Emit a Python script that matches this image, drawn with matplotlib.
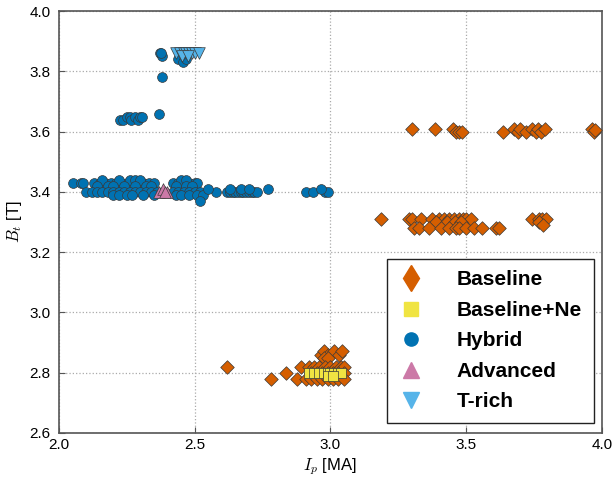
import matplotlib
matplotlib.use('Agg')
import matplotlib.pyplot as plt
from matplotlib.lines import Line2D

plt.rcParams['font.family'] = ['Liberation Sans', 'DejaVu Sans']
plt.rcParams['mathtext.fontset'] = 'cm'

# Baseline (orange diamonds)
base_top_x = [3.30, 3.386, 3.453, 3.464, 3.474, 3.485, 3.636, 3.676, 3.69, 3.70, 3.72,
              3.743, 3.757, 3.765, 3.775, 3.79, 3.963, 3.97, 3.975]
base_top_y = [3.61, 3.61, 3.61, 3.60, 3.60, 3.60, 3.60, 3.61, 3.60, 3.61, 3.60,
              3.61, 3.60, 3.61, 3.60, 3.61, 3.61, 3.60, 3.605]
base_mid_x = [3.187, 3.29, 3.30, 3.334, 3.375, 3.40, 3.42, 3.437, 3.455, 3.474, 3.49, 3.50, 3.518,
              3.39, 3.43, 3.46, 3.48,
              3.309, 3.327, 3.364, 3.408, 3.437, 3.463, 3.474, 3.50, 3.53, 3.56, 3.61, 3.62,
              3.743, 3.768, 3.78, 3.794, 3.77, 3.785]
base_mid_y = [3.31, 3.31, 3.31, 3.31, 3.31, 3.31, 3.31, 3.31, 3.31, 3.31, 3.31, 3.31, 3.31,
              3.30, 3.30, 3.30, 3.30,
              3.28, 3.28, 3.28, 3.28, 3.28, 3.28, 3.28, 3.28, 3.28, 3.28, 3.28, 3.28,
              3.31, 3.31, 3.31, 3.31, 3.30, 3.29]
base_low_x = [2.618, 2.78, 2.838, 2.878, 2.893, 2.91, 2.92,
              2.967, 2.978, 2.99, 3.015, 3.033, 3.044, 2.975, 2.99,
              2.94, 2.96, 2.98, 3.00, 3.02, 3.04, 3.05,
              2.93, 2.95, 2.97, 2.99, 3.01, 3.03, 3.05,
              2.93, 2.95, 2.97, 2.99, 3.01, 3.03, 3.05]
base_low_y = [2.82, 2.78, 2.80, 2.78, 2.82, 2.78, 2.82,
              2.86, 2.87, 2.86, 2.87, 2.86, 2.87, 2.85, 2.85,
              2.82, 2.82, 2.82, 2.82, 2.82, 2.82, 2.82,
              2.80, 2.80, 2.80, 2.80, 2.80, 2.80, 2.80,
              2.78, 2.78, 2.78, 2.78, 2.78, 2.78, 2.78]

# Baseline+Ne (yellow squares)
ne_x = [2.92, 2.94, 2.96, 2.975, 2.99, 3.00, 3.015, 3.03, 3.04, 2.99, 3.01]
ne_y = [2.80, 2.80, 2.80, 2.80, 2.80, 2.80, 2.80, 2.80, 2.80, 2.79, 2.79]

# Hybrid (blue circles)
hyb_a_x = [2.05, 2.08, 2.09, 2.13, 2.15, 2.17, 2.19, 2.21, 2.23, 2.25, 2.27, 2.29, 2.31,
           2.33, 2.35, 2.42, 2.44, 2.46, 2.48, 2.50, 2.51]
hyb_a_y = [3.43] * 21
hyb_b_x = [2.16, 2.22, 2.26, 2.28, 2.30, 2.45, 2.47]
hyb_b_y = [3.44] * 7
hyb_c_x = [2.14, 2.18, 2.20, 2.24, 2.28, 2.32, 2.34, 2.43, 2.47, 2.49]
hyb_c_y = [3.42] * 10
hyb_d_x = [2.10, 2.12, 2.14, 2.16, 2.18, 2.20, 2.22, 2.24, 2.26, 2.28, 2.30, 2.32, 2.34,
           2.36, 2.42, 2.44, 2.46, 2.48, 2.50, 2.52, 2.58, 2.62, 2.63, 2.64, 2.65, 2.66,
           2.67, 2.68, 2.69, 2.70, 2.71, 2.72, 2.73, 2.91, 2.935, 2.98, 2.99]
hyb_d_y = [3.40] * 37
hyb_e_x = [2.20, 2.22, 2.25, 2.27, 2.31, 2.35, 2.43, 2.45, 2.48, 2.51, 2.53]
hyb_e_y = [3.39] * 11
hyb_f_x = [2.518, 2.548, 2.77, 2.965, 2.63, 2.67, 2.70,
           2.224, 2.235, 2.25, 2.26, 2.265, 2.28, 2.29, 2.30, 2.305,
           2.368, 2.379, 2.372, 2.38, 2.375, 2.44, 2.457, 2.47]
hyb_f_y = [3.37, 3.41, 3.41, 3.41, 3.41, 3.41, 3.41,
           3.64, 3.64, 3.65, 3.65, 3.64, 3.65, 3.64, 3.65, 3.65,
           3.66, 3.78, 3.86, 3.85, 3.86, 3.84, 3.83, 3.84]

# Advanced (pink triangles)
adv_x = [2.37, 2.385, 2.40, 2.39]
adv_y = [3.40, 3.41, 3.40, 3.40]

# T-rich (light blue down triangles)
trich_x = [2.43, 2.445, 2.46, 2.47, 2.48, 2.49, 2.50, 2.515, 2.455, 2.475]
trich_y = [3.86, 3.86, 3.86, 3.86, 3.86, 3.86, 3.86, 3.86, 3.85, 3.85]

c_base = '#D55E00'
c_ne = '#F0E442'
c_hyb = '#0072B2'
c_adv = '#CC79A7'
c_tr = '#56B4E9'
ec = '#3a3a3a'

fig = plt.figure(figsize=(6.14, 4.82), dpi=100)
ax = fig.add_axes([0.096, 0.102, 0.884, 0.875])

kw = dict(edgecolors=ec, linewidths=0.5, zorder=3)
ax.scatter(base_top_x + base_mid_x + base_low_x, base_top_y + base_mid_y + base_low_y,
           marker='D', s=48, c=c_base, **kw)
ax.scatter(ne_x, ne_y, marker='s', s=50, c=c_ne, **kw)
ax.scatter(hyb_a_x + hyb_b_x + hyb_c_x + hyb_d_x + hyb_e_x + hyb_f_x,
           hyb_a_y + hyb_b_y + hyb_c_y + hyb_d_y + hyb_e_y + hyb_f_y,
           marker='o', s=50, c=c_hyb, **kw)
ax.scatter(adv_x, adv_y, marker='^', s=70, c=c_adv, **kw)
ax.scatter(trich_x, trich_y, marker='v', s=70, c=c_tr, **kw)

ax.set_xlim(2.0, 4.0)
ax.set_ylim(2.6, 4.0)
ax.set_xticks([2.0, 2.5, 3.0, 3.5, 4.0])
ax.set_yticks([2.6, 2.8, 3.0, 3.2, 3.4, 3.6, 3.8, 4.0])
ax.grid(True, linestyle=':', color='#aaaaaa', linewidth=0.9)
ax.set_axisbelow(True)
ax.tick_params(direction='in', length=4, labelsize=11, color='#555555')
ax.tick_params(axis='x', pad=4)
ax.tick_params(axis='y', pad=6)
for sp in ax.spines.values():
    sp.set_color('#555555')
    sp.set_linewidth(1.2)

ax.set_xlabel('$I_p$ [MA]', fontsize=12, labelpad=3)
ax.set_ylabel('$B_t$ [T]', fontsize=12, labelpad=4)

handles = [
    Line2D([], [], ls='none', marker='d', ms=13, color=c_base, mec=c_base),
    Line2D([], [], ls='none', marker='s', ms=10, color=c_ne, mec=c_ne),
    Line2D([], [], ls='none', marker='o', ms=9.5, color=c_hyb, mec=c_hyb),
    Line2D([], [], ls='none', marker='^', ms=12, color=c_adv, mec=c_adv),
    Line2D([], [], ls='none', marker='v', ms=12, color=c_tr, mec=c_tr),
]
labels = ['Baseline', 'Baseline+Ne', 'Hybrid', 'Advanced', 'T-rich']
leg = ax.legend(handles, labels, loc='lower right', bbox_to_anchor=(0.985, 0.024),
                borderaxespad=0, fancybox=False, framealpha=1, edgecolor='#222222',
                prop={'weight': 'bold', 'size': 15}, labelspacing=0.55,
                handletextpad=1.6, borderpad=0.55, handlelength=1.2)
leg.get_frame().set_linewidth(1.0)

fig.savefig('out.png', dpi=100)
